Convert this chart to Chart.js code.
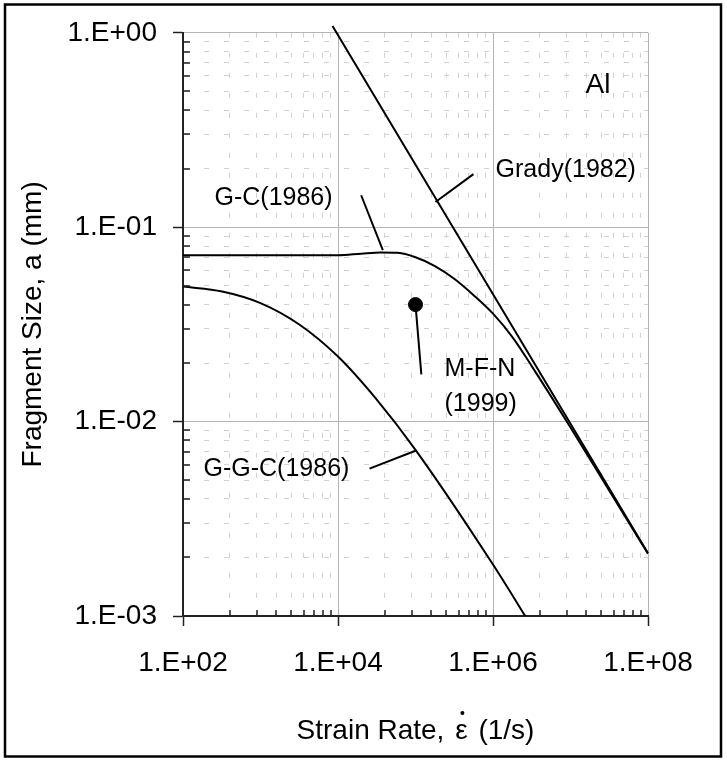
<!DOCTYPE html>
<html>
<head>
<meta charset="utf-8">
<script src="https://cdn.jsdelivr.net/npm/chart.js@4.4.1/dist/chart.umd.min.js"></script>
<style>
  html, body { margin: 0; padding: 0; background: #fff; }
  #wrap { width: 727px; height: 763px; position: relative; }
</style>
</head>
<body>
<div id="wrap"><canvas id="grafico"></canvas></div>
<script>
// ejes (log): marcas mayores
const xMayores = [1e2, 1e4, 1e6, 1e8];
const yMayores = [1e-3, 1e-2, 1e-1, 1e0];
const multMenores = [2, 3, 4, 5, 6, 7, 8, 9];

// Grady (1982)
const gradyX = [8.5e3, 1e8];
const gradyY = [1.085, 2.1e-3];

// G-C (1986)
const gcX = [1e2, 1e4, 2.0e4, 3.55e4, 5.9e4, 1e5, 1.78e5, 3.16e5, 5.62e5, 1e6, 1.78e6, 3.16e6, 1e7, 3e7, 1e8];
const gcY = [0.0717, 0.0717, 0.0731, 0.0741, 0.0738, 0.0700, 0.0631, 0.0543, 0.0447, 0.0359, 0.0272, 0.0193, 0.00933, 0.00457, 0.00209];

// G-G-C (1986)
const ggcX = [1e2, 320, 1000, 3200, 1e4, 3.2e4, 1e5, 1e6, 3.2e6];
const ggcY = [0.0495, 0.0467, 0.0407, 0.0315, 0.0216, 0.0129, 0.00716, 0.00184, 0.000875];

// M-F-N (1999)
const mfnX = [1e5];
const mfnY = [0.04];

// textos dentro del grafico (coordenadas de datos)
const etiquetas = [
  { texto: "Al", x: 1.56e7, y: 0.493, size: 28 },
  { texto: "Grady(1982)", x: 1.08e6, y: 0.181, size: 25 },
  { texto: "G-C(1986)", x: 255, y: 0.130, size: 25 },
  { texto: "M-F-N", x: 2.37e5, y: 0.0171, size: 25 },
  { texto: "(1999)", x: 2.37e5, y: 0.0113, size: 25 },
  { texto: "G-G-C(1986)", x: 184, y: 0.00527, size: 25 }
];
const guias = [
  [5.6e5, 0.1875, 1.81e5, 0.1348],
  [1.99e4, 0.146, 3.79e4, 0.0762],
  [1e5, 0.04, 1.19e5, 0.0175],
  [2.55e4, 0.00573, 1.0e5, 0.00708]
];

const tituloX = ["Strain Rate, ", "\u03B5", " (1/s)"];
const tituloY = "Fragment Size, a (mm)";

const FUENTE = "'Liberation Sans', Arial, sans-serif";

function pares(xs, ys) {
  return xs.map((x, i) => ({ x: x, y: ys[i] }));
}

function menores(mayores, base) {
  const out = [];
  mayores.slice(0, -1).forEach(m => {
    multMenores.forEach(k => out.push(m * Math.pow(k, base)));
  });
  return out;
}

const xTicks = xMayores.concat(menores(xMayores, 2)).sort((a, b) => a - b);
const yTicks = yMayores.concat(menores(yMayores, 1)).sort((a, b) => a - b);

function esMayor(lista, v) {
  return lista.some(m => Math.abs(Math.log10(m) - Math.log10(v)) < 1e-6);
}

function formato(v) {
  const e = Math.round(Math.log10(v));
  return "1.E" + (e < 0 ? "-" : "+") + String(Math.abs(e)).padStart(2, "0");
}

function opcionesEje(mayores, lista) {
  return {
    type: 'logarithmic',
    afterBuildTicks: s => { s.ticks = lista.map(v => ({ value: v, major: esMayor(mayores, v) })); },
    ticks: {
      autoSkip: false,
      maxRotation: 0,
      color: '#000',
      font: { family: FUENTE, size: 28 },
      callback: v => esMayor(mayores, v) ? formato(v) : ''
    },
    grid: {
      color: c => (c.tick && esMayor(mayores, c.tick.value)) ? '#b4b4b4' : '#d2d2d2',
      lineWidth: 1,
      tickLength: 10,
      tickWidth: 1.5,
      tickColor: c => (c.tick && esMayor(mayores, c.tick.value)) ? '#222' : 'rgba(0,0,0,0)'
    },
    border: {
      color: '#222',
      width: 2,
      dash: c => (c.tick && !esMayor(mayores, c.tick.value)) ? [5, 15] : []
    }
  };
}

const ejeX = opcionesEje(xMayores, xTicks);
ejeX.min = 1e2; ejeX.max = 1e8;
ejeX.ticks.padding = 20;
ejeX.afterFit = s => { s.height = 147; };

const ejeY = opcionesEje(yMayores, yTicks);
ejeY.min = 1e-3; ejeY.max = 1;
ejeY.ticks.padding = 16;
ejeY.afterFit = s => { s.width = 183; };
ejeY.title = { display: true, text: tituloY, color: '#000',
  font: { family: FUENTE, size: 28 }, padding: { top: 16, bottom: 0 } };

const marcasMenores = {
  id: 'marcasMenores',
  afterDraw(chart) {
    const { ctx, chartArea: a, scales: { x, y } } = chart;
    ctx.save();
    ctx.strokeStyle = '#222';
    ctx.lineWidth = 1.5;
    ctx.beginPath();
    x.ticks.forEach(t => {
      if (esMayor(xMayores, t.value)) return;
      const px = Math.round(x.getPixelForValue(t.value));
      ctx.moveTo(px, a.bottom);
      ctx.lineTo(px, a.bottom - 6);
    });
    y.ticks.forEach(t => {
      if (esMayor(yMayores, t.value)) return;
      const py = Math.round(y.getPixelForValue(t.value));
      ctx.moveTo(a.left, py);
      ctx.lineTo(a.left + 7, py);
    });
    ctx.stroke();
    ctx.restore();
  }
};

// titulo del eje x con el punto sobre epsilon
const tituloEjeX = {
  id: 'tituloEjeX',
  afterDraw(chart) {
    const { ctx, chartArea: a } = chart;
    ctx.save();
    ctx.fillStyle = '#000';
    ctx.font = "28px " + FUENTE;
    ctx.textBaseline = 'alphabetic';
    ctx.textAlign = 'left';
    const anchos = tituloX.map(t => ctx.measureText(t).width);
    const total = anchos.reduce((s, w) => s + w, 0) + 6;
    let x0 = (a.left + a.right) / 2 - total / 2;
    const base = chart.height - 24;
    ctx.fillText(tituloX[0], x0, base);
    x0 += anchos[0] + 3;
    ctx.fillText(tituloX[1], x0, base);
    ctx.beginPath();
    ctx.arc(x0 + anchos[1] / 2 + 1, base - 26, 2, 0, Math.PI * 2);
    ctx.fill();
    x0 += anchos[1] + 3;
    ctx.fillText(tituloX[2], x0, base);
    ctx.restore();
  }
};

const textos = {
  id: 'textos',
  afterDatasetsDraw(chart) {
    const { ctx, scales: { x, y } } = chart;
    ctx.save();
    ctx.strokeStyle = '#000';
    ctx.lineWidth = 2;
    guias.forEach(g => {
      ctx.beginPath();
      ctx.moveTo(x.getPixelForValue(g[0]), y.getPixelForValue(g[1]));
      ctx.lineTo(x.getPixelForValue(g[2]), y.getPixelForValue(g[3]));
      ctx.stroke();
    });
    ctx.fillStyle = '#000';
    ctx.textAlign = 'left';
    ctx.textBaseline = 'alphabetic';
    etiquetas.forEach(e => {
      ctx.font = e.size + "px " + FUENTE;
      ctx.fillText(e.texto, x.getPixelForValue(e.x), y.getPixelForValue(e.y));
    });
    ctx.restore();
  }
};

const marco = {
  id: 'marco',
  beforeDraw(chart) {
    const ctx = chart.ctx;
    ctx.save();
    ctx.fillStyle = '#fff';
    ctx.fillRect(0, 0, chart.width, chart.height);
    ctx.restore();
  },
  afterDraw(chart) {
    const ctx = chart.ctx;
    ctx.save();
    ctx.strokeStyle = '#000';
    ctx.lineWidth = 2.5;
    ctx.strokeRect(5, 4.5, 716, 752);
    ctx.restore();
  }
};

function linea(datos) {
  return {
    data: datos,
    showLine: true,
    borderColor: '#000',
    borderWidth: 2,
    pointRadius: 0,
    cubicInterpolationMode: 'monotone'
  };
}

const dsGrady = linea(pares(gradyX, gradyY));
dsGrady.clip = false;

new Chart(document.getElementById("grafico"), {
  type: 'scatter',
  data: {
    datasets: [
      dsGrady,
      linea(pares(gcX, gcY)),
      linea(pares(ggcX, ggcY)),
      {
        data: pares(mfnX, mfnY),
        pointRadius: 7,
        pointBackgroundColor: '#000',
        pointBorderColor: '#000',
        showLine: false
      }
    ]
  },
  options: {
    responsive: true,
    maintainAspectRatio: false,
    animation: false,
    layout: { padding: { top: 30, right: 79, left: 0, bottom: 0 } },
    plugins: { legend: { display: false }, tooltip: { enabled: false } },
    scales: { x: ejeX, y: ejeY }
  },
  plugins: [marco, marcasMenores, tituloEjeX, textos]
});
</script>
</body>
</html>
